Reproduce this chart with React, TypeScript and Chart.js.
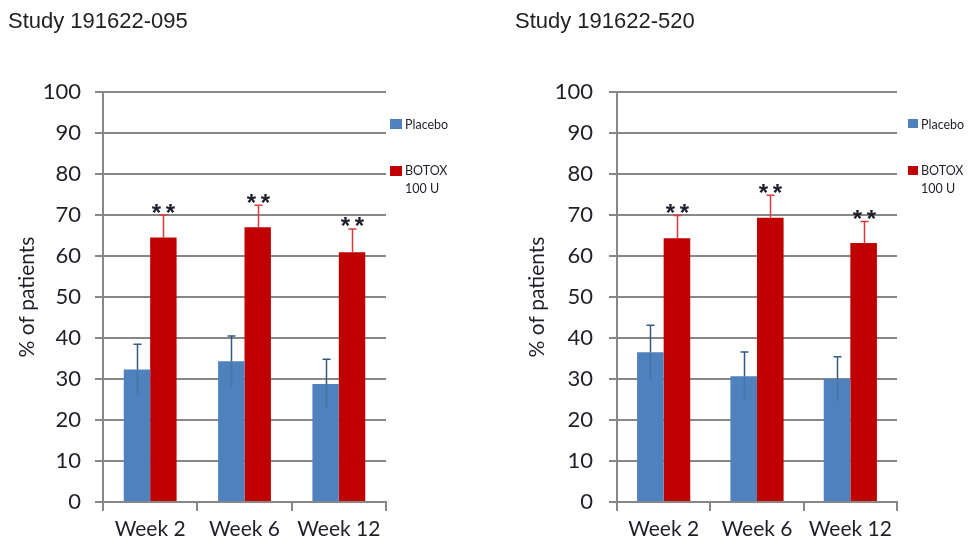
import React, { useEffect, useRef } from "react";
import { Chart, registerables } from "chart.js";

Chart.register(...registerables);

const categories = ["Week 2", "Week 6", "Week 12"];
const seriesNames = ["Placebo", "BOTOX"];
const botoxDoseLine = "100 U";
const yAxisTitle = "% of patients";

const study095Title = "Study 191622-095";
const study095Placebo = [32.3, 34.3, 28.8];
const study095PlaceboErr = [6.2, 6.2, 6.0];
const study095Botox = [64.5, 67.0, 60.9];
const study095BotoxErr = [5.5, 5.4, 5.7];

const study520Title = "Study 191622-520";
const study520Placebo = [36.5, 30.7, 30.0];
const study520PlaceboErr = [6.6, 5.9, 5.4];
const study520Botox = [64.3, 69.3, 63.2];
const study520BotoxErr = [5.6, 5.5, 5.2];

const significance = ["**", "**", "**"];

const BLUE = "#4F81BD";
const RED = "#C00000";
const GRID = "#878787";
const TEXT = "#1f1f28";
const FONT = "Lato, 'Open Sans', sans-serif";

type PanelCfg = {
  title: string;
  titleX: number;
  placebo: number[];
  placeboErr: number[];
  botox: number[];
  botoxErr: number[];
  axisWidth: number;
  rightPad: number;
  yTitlePad: number;
  tickPad: number;
  legendX: number;
  legendSqW: number;
  legendSqH: number;
  legendTextX: number;
  catPct: number;
};

function Panel({ left, width, cfg }: { left: number; width: number; cfg: PanelCfg }) {
  const ref = useRef<HTMLCanvasElement | null>(null);
  useEffect(() => {
    const canvas = ref.current;
    if (!canvas) return;
    const overlay = {
      id: "overlay",
      afterDatasetsDraw(chart: any) {
        const ctx = chart.ctx;
        const ys = chart.scales.y;
        const sets: [number, number[], string][] = [
          [0, cfg.placeboErr, "#34587f"],
          [1, cfg.botoxErr, "#d83a3a"],
        ];
        ctx.save();
        sets.forEach(([i, errs, color]) => {
          const meta = chart.getDatasetMeta(i);
          meta.data.forEach((bar: any, j: number) => {
            const v = chart.data.datasets[i].data[j] as number;
            const top = ys.getPixelForValue(v + errs[j]);
            const low = ys.getPixelForValue(v - errs[j]);
            const x = Math.round(bar.x) + 0.5;
            ctx.lineWidth = 1.5;
            if (i === 0) {
              ctx.strokeStyle = "rgba(52,88,127,0.3)";
              ctx.beginPath();
              ctx.moveTo(x, bar.y);
              ctx.lineTo(x, low);
              ctx.stroke();
            }
            ctx.strokeStyle = color;
            ctx.beginPath();
            ctx.moveTo(x, bar.y);
            ctx.lineTo(x, top);
            ctx.moveTo(x - 4, top);
            ctx.lineTo(x + 4, top);
            ctx.stroke();
            if (i === 1) {
              ctx.fillStyle = "#1c1c2a";
              ctx.font = "bold 24px 'Liberation Sans', Arial, sans-serif";
              ctx.textAlign = "center";
              ctx.textBaseline = "alphabetic";
              const marks = significance[j].split("");
              const base = top + 5.5;
              marks.forEach((m, k) => {
                const off = (k - (marks.length - 1) / 2) * 14;
                ctx.fillText(m, x + off, base);
              });
            }
          });
        });
        ctx.restore();
      },
      afterDraw(chart: any) {
        const ctx = chart.ctx;
        ctx.save();
        ctx.fillStyle = "#222222";
        ctx.font = "22px 'Liberation Sans', Arial, sans-serif";
        ctx.textAlign = "left";
        ctx.textBaseline = "alphabetic";
        ctx.fillText(cfg.title, cfg.titleX, 28);
        // legend
        ctx.fillStyle = BLUE;
        ctx.fillRect(cfg.legendX, 119, cfg.legendSqW, cfg.legendSqH);
        ctx.fillStyle = RED;
        ctx.fillRect(cfg.legendX, 166, cfg.legendSqW, cfg.legendSqH);
        ctx.fillStyle = TEXT;
        ctx.font = "12.5px " + FONT;
        ctx.textBaseline = "middle";
        ctx.fillText(seriesNames[0], cfg.legendTextX, 124.5);
        ctx.fillText(seriesNames[1], cfg.legendTextX, 171);
        ctx.fillText(botoxDoseLine, cfg.legendTextX, 189);
        ctx.restore();
      },
    };

    const chart = new Chart(canvas, {
      type: "bar",
      data: {
        labels: categories,
        datasets: [
          { label: seriesNames[0], data: cfg.placebo, backgroundColor: BLUE, borderWidth: 0 },
          { label: seriesNames[1] + " " + botoxDoseLine, data: cfg.botox, backgroundColor: RED, borderWidth: 0 },
        ],
      },
      options: {
        responsive: false,
        animation: false,
        devicePixelRatio: 1,
        layout: { padding: { left: 0, top: 92, right: cfg.rightPad, bottom: 0 } },
        datasets: { bar: { categoryPercentage: cfg.catPct, barPercentage: 1.0 } },
        plugins: { legend: { display: false }, tooltip: { enabled: false }, title: { display: false } },
        scales: {
          x: {
            offset: true,
            grid: {
              offset: true,
              drawOnChartArea: false,
              drawTicks: true,
              tickLength: 9,
              color: GRID,
              lineWidth: 2,
            },
            border: { display: true, color: GRID, width: 2 },
            ticks: { color: TEXT, font: { family: FONT, size: 21 }, padding: 6, maxRotation: 0 },
            afterFit: (s: any) => {
              s.height = 44;
            },
          },
          y: {
            min: 0,
            max: 100,
            ticks: { stepSize: 10, color: TEXT, font: { family: FONT, size: 22 }, padding: cfg.tickPad },
            grid: { color: GRID, lineWidth: 2, drawTicks: true, tickLength: 8 },
            border: { display: true, color: GRID, width: 2 },
            title: {
              display: true,
              text: yAxisTitle,
              color: TEXT,
              font: { family: FONT, size: 21 },
              padding: { top: cfg.yTitlePad, bottom: 0 },
            },
            afterFit: (s: any) => {
              s.width = cfg.axisWidth;
            },
          },
        },
      },
      plugins: [overlay],
    } as any);
    return () => chart.destroy();
  }, []);
  return (
    <canvas
      ref={ref}
      width={width}
      height={546}
      style={{ position: "absolute", left, top: 0, width, height: 546 }}
    />
  );
}

const leftCfg: PanelCfg = {
  title: study095Title,
  titleX: 8,
  placebo: study095Placebo,
  placeboErr: study095PlaceboErr,
  botox: study095Botox,
  botoxErr: study095BotoxErr,
  axisWidth: 103,
  rightPad: 100,
  yTitlePad: 15,
  tickPad: 14,
  legendX: 390,
  legendSqW: 12,
  legendSqH: 10,
  legendTextX: 405,
  catPct: 0.56,
};

const rightCfg: PanelCfg = {
  title: study520Title,
  titleX: 29,
  placebo: study520Placebo,
  placeboErr: study520PlaceboErr,
  botox: study520Botox,
  botoxErr: study520BotoxErr,
  axisWidth: 131,
  rightPad: 76,
  yTitlePad: 39,
  tickPad: 16,
  legendX: 422,
  legendSqW: 10,
  legendSqH: 9,
  legendTextX: 435,
  catPct: 0.57,
};

export default function App() {
  return (
    <div style={{ position: "absolute", left: 0, top: 0, width: 973, height: 546, background: "#ffffff" }}>
      <Panel left={0} width={486} cfg={leftCfg} />
      <Panel left={486} width={487} cfg={rightCfg} />
    </div>
  );
}
